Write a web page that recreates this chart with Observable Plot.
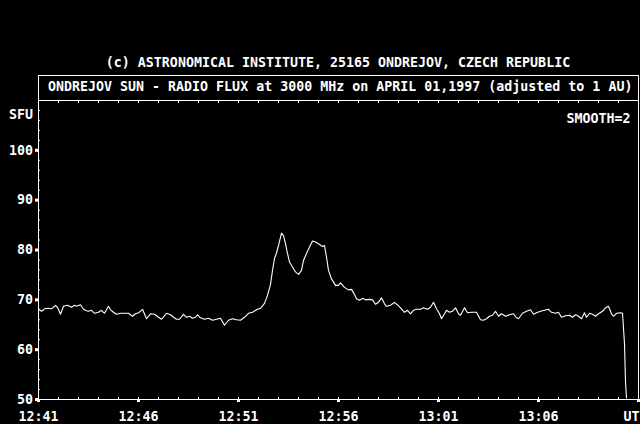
<!DOCTYPE html>
<html>
<head>
<meta charset="utf-8">
<script src="https://cdn.jsdelivr.net/npm/d3@7"></script>
<script src="https://cdn.jsdelivr.net/npm/@observablehq/plot@0.6"></script>
<style>
  body { margin: 0; background: #000; }
  #c { position: relative; width: 640px; height: 424px; background: #000; overflow: hidden;
       font-family: "DejaVu Sans Mono", monospace; font-weight: bold; font-size: 13.3px; color: #fff; }
  #c svg { position: absolute; left: 0; top: 0; }
  .t { position: absolute; line-height: 16px; white-space: pre; z-index: 2; }
  #box { position: absolute; left: 38px; top: 75px; width: 601px; height: 26px; box-sizing: border-box;
         border: 1px solid #fff; border-bottom: none; z-index: 2; }
</style>
</head>
<body>
<div id="c">
  <div class="t" style="left:38px;width:600px;top:55px;text-align:center">(c) ASTRONOMICAL INSTITUTE, 25165 ONDREJOV, CZECH REPUBLIC</div>
  <div id="box"></div>
  <div class="t" style="left:48px;top:79px">ONDREJOV SUN - RADIO FLUX at 3000 MHz on APRIL 01,1997 (adjusted to 1 AU)</div>
</div>
<script>
// ---- data ----
const startTime = "12:41";
const endTime = "13:11";
const xTickLabels = ["12:41", "12:46", "12:51", "12:56", "13:01", "13:06"];
const xEndLabel = "UT";
const yTickValues = [50, 60, 70, 80, 90, 100];
const yMinorTicks = [52, 54, 56, 58, 62, 64, 66, 68, 72, 74, 76, 78, 82, 84, 86, 88, 92, 94, 96, 98, 102, 104, 106, 108];
const yUnit = "SFU";
const smoothLabel = "SMOOTH=2";

// seconds after 12:41:00 UT
const seconds = [
  0, 9, 18, 27, 39, 51, 57, 66, 75, 87, 99, 108, 114, 126, 135, 144, 150, 159, 168, 180,
  189, 198, 210, 216, 225, 234, 246, 258, 270, 282, 291, 300, 312, 324, 336, 348, 360, 369, 384, 396,
  405, 414, 423, 435, 444, 453, 462, 471, 477, 486, 498, 510, 522, 534, 546, 558, 570, 582, 594, 606,
  618, 630, 642, 654, 666, 678, 687, 696, 702, 708, 714, 720, 729, 735, 741, 747, 753, 762, 771, 780,
  789, 795, 804, 813, 822, 834, 843, 852, 858, 864, 870, 879, 891, 900, 906, 918, 930, 939, 948, 954,
  963, 972, 981, 993, 1002, 1011, 1020, 1029, 1038, 1044, 1056, 1068, 1077, 1086, 1098, 1107, 1116, 1125, 1134, 1146,
  1155, 1167, 1176, 1185, 1194, 1203, 1209, 1218, 1224, 1233, 1242, 1251, 1260, 1266, 1278, 1287, 1299, 1314, 1326, 1335,
  1344, 1353, 1362, 1371, 1380, 1389, 1401, 1413, 1425, 1434, 1440, 1452, 1464, 1476, 1485, 1494, 1506, 1518, 1530, 1539,
  1551, 1560, 1569, 1581, 1593, 1602, 1611, 1620, 1629, 1638, 1644, 1653, 1662, 1671, 1680, 1692, 1701, 1710, 1719, 1725,
  1734, 1746, 1752, 1758, 1761, 1764
];
// flux, SFU
const flux = [
  68.2, 67.7, 68.2, 68.3, 68.2, 68.9, 68.5, 67.1, 68.7, 68.9, 68.5, 68.9, 68.7, 69.0, 68.1, 67.8, 67.7, 67.9, 67.3, 67.5,
  67.9, 67.3, 68.7, 68.0, 67.5, 67.1, 67.3, 67.3, 67.3, 66.7, 67.2, 67.4, 68.1, 66.2, 67.2, 67.1, 66.5, 66.1, 67.3, 67.0,
  66.5, 66.1, 66.1, 67.1, 66.5, 66.7, 66.3, 66.5, 67.0, 66.4, 66.1, 66.3, 65.9, 66.1, 66.3, 64.9, 65.9, 66.2, 66.0, 65.9,
  66.5, 67.3, 67.5, 68.0, 68.3, 69.3, 70.9, 73.1, 75.9, 78.3, 79.4, 80.9, 83.4, 82.9, 81.3, 79.3, 77.6, 76.6, 75.6, 75.1,
  75.9, 77.9, 79.3, 80.6, 81.8, 81.5, 81.1, 80.7, 80.9, 78.6, 75.9, 74.2, 72.9, 72.9, 73.4, 72.5, 72.0, 72.1, 71.1, 70.2,
  69.9, 70.3, 70.0, 70.1, 70.0, 69.1, 69.5, 70.4, 69.2, 68.7, 68.9, 69.5, 69.0, 68.4, 67.5, 67.9, 67.2, 67.9, 68.1, 68.1,
  68.4, 68.1, 68.5, 69.5, 68.2, 67.2, 66.2, 67.2, 67.9, 67.5, 67.7, 68.4, 67.2, 66.9, 68.4, 67.4, 67.5, 67.5, 66.0, 65.9,
  66.2, 66.7, 66.9, 67.7, 66.7, 67.2, 66.7, 67.0, 67.2, 66.4, 66.2, 67.3, 67.7, 68.0, 67.1, 67.4, 67.7, 67.9, 68.1, 67.5,
  67.3, 67.5, 66.5, 66.8, 66.9, 66.5, 67.0, 66.7, 66.2, 67.4, 66.5, 67.3, 67.1, 66.7, 67.2, 67.7, 68.4, 68.7, 67.2, 66.7,
  67.3, 67.4, 67.3, 61.2, 53.5, 50.3
];

// ---- build ----
const toDate = (hm) => { const [h, m] = hm.split(":").map(Number); return new Date(Date.UTC(1997, 3, 1, h, m)); };
const t0 = toDate(startTime);
const t1 = toDate(endTime);
const data = seconds.map((s, i) => ({t: new Date(t0.getTime() + s * 1000), v: flux[i]}));
const xMajor = [...xTickLabels.map(toDate), t1];
const xMinor = d3.utcMinute.range(t0, t1);
const fmt = d3.utcFormat("%H:%M");
const blank = () => "";

const chart = Plot.plot({
  width: 640,
  height: 424,
  marginLeft: 38,
  marginRight: 2,
  marginTop: 100,
  marginBottom: 25,
  style: {background: "#000", color: "#fff", fontFamily: "DejaVu Sans Mono, monospace", fontSize: "13.3px", fontWeight: "bold"},
  x: {type: "utc", domain: [t0, t1]},
  y: {domain: [50, 110]},
  marks: [
    Plot.frame({stroke: "#fff"}),
    // y axis: major ticks outside with labels
    Plot.axisY({ticks: yTickValues, tickSize: 3, tickPadding: 2.5, strokeWidth: 3, label: null, fill: "#fff"}),
    // y minor ticks inside
    Plot.axisY({ticks: yMinorTicks, tickSize: 2, dx: 2, tickFormat: blank, label: null}),
    // x axis bottom: major ticks outside with labels
    Plot.axisX({ticks: xMajor, tickSize: 3, tickPadding: 9, strokeWidth: 3, label: null, fill: "#fff",
      tickFormat: d => (d.getTime() === t1.getTime() ? "" : fmt(d))}),
    // x minor ticks inside, bottom and top
    Plot.axisX({ticks: xMinor, anchor: "bottom", tickSize: 2, dy: -2, tickFormat: blank, label: null}),
    Plot.axisX({ticks: xMinor, anchor: "top", tickSize: 2, dy: 2, tickFormat: blank, label: null}),
    Plot.text([xEndLabel], {text: d => d, frameAnchor: "bottom-right", textAnchor: "end", lineAnchor: "top", dx: 1, dy: 12, fill: "#fff"}),
    Plot.text([yUnit], {text: d => d, frameAnchor: "top-left", textAnchor: "end", dx: -5.5, dy: 9, fill: "#fff"}),
    Plot.text([smoothLabel], {text: d => d, frameAnchor: "top-right", textAnchor: "end", dx: -8, dy: 13.5, fill: "#fff"}),
    Plot.line(data, {x: "t", y: "v", stroke: "#fff", strokeWidth: 1.1})
  ]
});
document.getElementById("c").appendChild(chart);
</script>
</body>
</html>
